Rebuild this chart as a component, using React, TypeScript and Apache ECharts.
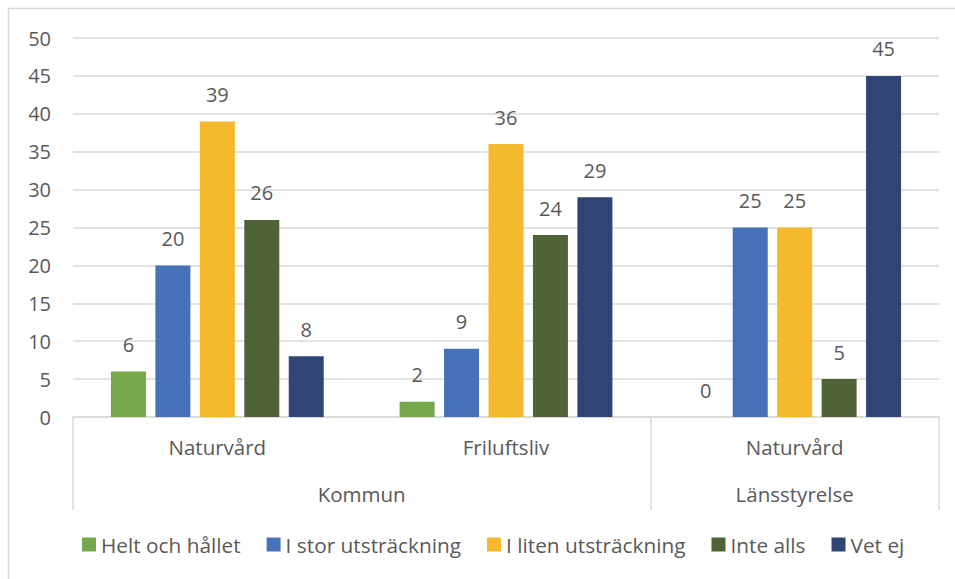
import React, { useEffect, useRef } from "react";
import * as echarts from "echarts";

const categoryKeys = ["Kommun|Naturvård", "Kommun|Friluftsliv", "Länsstyrelse|Naturvård"];
const groupLabels: [number, string][] = [
  [1, "Kommun"],
  [2.5, "Länsstyrelse"],
];
const seriesNames = ["Helt och hållet", "I stor utsträckning", "I liten utsträckning", "Inte alls", "Vet ej"];
const heltOchHallet = [6, 2, 0];
const iStorUtstrackning = [20, 9, 25];
const iLitenUtstrackning = [39, 36, 25];
const inteAlls = [26, 24, 5];
const vetEj = [8, 29, 45];
const seriesColors = ["#75A74B", "#4672B8", "#F5BA2C", "#4F6336", "#2F4575"];
const yTicks = { min: 0, max: 50, interval: 5 };

const TEXT = "#595959";
const LINE = "#d9d9d9";
const FONT = "'Open Sans', 'Noto Sans', sans-serif";

export default function App() {
  const ref = useRef<HTMLDivElement>(null);
  useEffect(() => {
    if (!ref.current) return;
    const chart = echarts.init(ref.current, undefined, { renderer: "svg" });
    const allData = [heltOchHallet, iStorUtstrackning, iLitenUtstrackning, inteAlls, vetEj];
    chart.setOption({
      animation: false,
      backgroundColor: "#ffffff",
      textStyle: { fontFamily: FONT },
      graphic: [
        {
          type: "rect",
          shape: { x: 8.5, y: 8.5, width: 1000, height: 1000 },
          style: { fill: "none", stroke: LINE, lineWidth: 1.5 },
          silent: true,
        },
      ],
      grid: { left: 73, right: 16, top: 38, bottom: 162, containLabel: false },
      legend: {
        left: 82,
        top: 534,
        padding: 0,
        icon: "rect",
        itemWidth: 14,
        itemHeight: 14,
        itemGap: 26,
        textStyle: { color: TEXT, fontSize: 20.8, fontFamily: FONT },
        data: seriesNames,
      },
      xAxis: [
        {
          type: "category",
          data: categoryKeys,
          axisLine: { show: true, lineStyle: { color: LINE, width: 1.5 } },
          axisTick: {
            show: true,
            length: 93,
            interval: (i: number) => i !== 1,
            lineStyle: { color: LINE, width: 1.5 },
          },
          axisLabel: {
            interval: 0,
            margin: 20,
            color: TEXT,
            fontSize: 20.5,
            lineHeight: 20,
            fontFamily: FONT,
            formatter: (v: string) => v.split("|")[1],
          },
          splitLine: { show: false },
        },
        {
          type: "value",
          position: "bottom",
          min: 0,
          max: 3,
          interval: 0.5,
          axisLine: { show: false },
          axisTick: { show: false },
          splitLine: { show: false },
          axisLabel: {
            margin: 67,
            color: TEXT,
            fontSize: 20.5,
            lineHeight: 20,
            fontFamily: FONT,
            showMinLabel: true,
            showMaxLabel: true,
            formatter: (v: number) => {
              const g = groupLabels.find((x) => Math.abs(x[0] - v) < 1e-6);
              return g ? g[1] : "";
            },
          },
        },
      ],
      yAxis: {
        type: "value",
        min: yTicks.min,
        max: yTicks.max,
        interval: yTicks.interval,
        axisLine: { show: false },
        axisTick: { show: false },
        axisLabel: { color: TEXT, fontSize: 20, margin: 22, fontFamily: FONT },
        splitLine: { lineStyle: { color: LINE, width: 1.5 } },
      },
      series: seriesNames.map((name, i) => ({
        name,
        type: "bar",
        xAxisIndex: 0,
        data: allData[i],
        barWidth: 35,
        barGap: "27%",
        itemStyle: { color: seriesColors[i] },
        label: {
          show: true,
          position: "top",
          distance: 17,
          color: TEXT,
          fontSize: 20,
          fontFamily: FONT,
        },
      })),
    });
    return () => chart.dispose();
  }, []);
  return (
    <div
      ref={ref}
      style={{ position: "absolute", left: 0, top: 0, width: 955, height: 579, overflow: "hidden" }}
    />
  );
}
